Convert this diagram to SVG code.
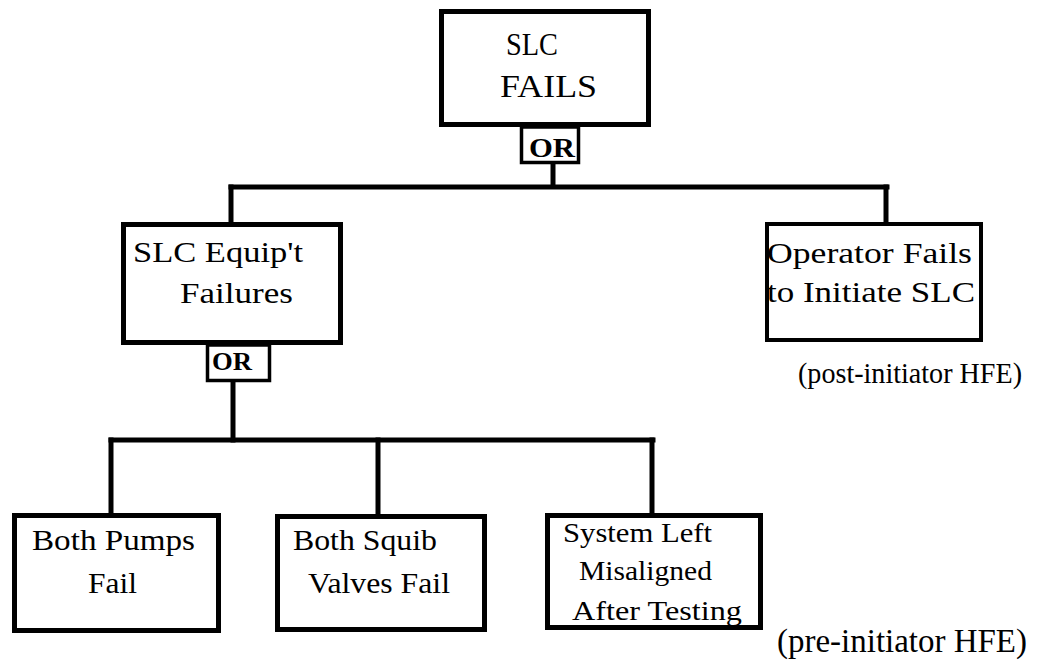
<svg xmlns="http://www.w3.org/2000/svg" width="1041" height="662" viewBox="0 0 1041 662">
<style>
.box{fill:#fff;stroke:#000;stroke-width:5}
.gate{fill:#fff;stroke:#000;stroke-width:3.5}
.conn{fill:none;stroke:#000;stroke-width:5;stroke-linecap:square}
.t{font-family:"Liberation Serif","Times New Roman",serif;fill:#000}
.g{font-family:"Liberation Serif","Times New Roman",serif;font-weight:bold;fill:#000}
</style>
<rect width="1041" height="662" fill="#fff"/>
<g id="connectors">
<line class="conn" x1="553" y1="164" x2="553" y2="186"/>
<line class="conn" x1="231" y1="187" x2="887" y2="187"/>
<line class="conn" x1="231" y1="187" x2="231" y2="222"/>
<line class="conn" x1="886" y1="187" x2="886" y2="222"/>
<line class="conn" x1="233" y1="382" x2="233" y2="440"/>
<line class="conn" x1="111" y1="440" x2="653" y2="440"/>
<line class="conn" x1="111" y1="440" x2="111" y2="513"/>
<line class="conn" x1="378" y1="440" x2="378" y2="513"/>
<line class="conn" x1="652" y1="440" x2="652" y2="513"/>
</g>
<g id="slc-fails">
<rect class="box" x="441.5" y="11.5" width="207" height="113"/>
<text class="t" x="506" y="55" font-size="32" textLength="52" lengthAdjust="spacingAndGlyphs">SLC</text>
<text class="t" x="500" y="97" font-size="32" textLength="97" lengthAdjust="spacingAndGlyphs">FAILS</text>
</g>
<g id="or-top">
<rect class="gate" x="521.5" y="127" width="57" height="35.5"/>
<text class="g" x="529" y="157" font-size="27" textLength="46" lengthAdjust="spacingAndGlyphs">OR</text>
</g>
<g id="equip-failures">
<rect class="box" x="123.5" y="224.5" width="217" height="118"/>
<text class="t" x="133" y="262" font-size="30" textLength="170" lengthAdjust="spacingAndGlyphs">SLC Equip't</text>
<text class="t" x="180" y="303" font-size="30" textLength="113" lengthAdjust="spacingAndGlyphs">Failures</text>
</g>
<g id="or-equip">
<rect class="gate" x="207.5" y="345" width="62" height="35.5"/>
<text class="g" x="212" y="370" font-size="25" textLength="40" lengthAdjust="spacingAndGlyphs">OR</text>
</g>
<g id="operator-fails">
<rect class="box" x="767" y="224" width="214" height="116" style="stroke-width:4"/>
<text class="t" x="767" y="263" font-size="30" textLength="205" lengthAdjust="spacingAndGlyphs">Operator Fails</text>
<text class="t" x="767" y="302" font-size="30" textLength="208" lengthAdjust="spacingAndGlyphs">to Initiate SLC</text>
</g>
<g id="post-initiator-label">
<text class="t" x="798" y="383" font-size="30" textLength="224" lengthAdjust="spacingAndGlyphs">(post-initiator HFE)</text>
</g>
<g id="both-pumps">
<rect class="box" x="14.5" y="515.5" width="204" height="115"/>
<text class="t" x="32" y="550" font-size="30" textLength="163" lengthAdjust="spacingAndGlyphs">Both Pumps</text>
<text class="t" x="88" y="593" font-size="30" textLength="49" lengthAdjust="spacingAndGlyphs">Fail</text>
</g>
<g id="both-squib">
<rect class="box" x="277.5" y="516.5" width="207" height="113"/>
<text class="t" x="293" y="550" font-size="30" textLength="144" lengthAdjust="spacingAndGlyphs">Both Squib</text>
<text class="t" x="308" y="593" font-size="30" textLength="142" lengthAdjust="spacingAndGlyphs">Valves Fail</text>
</g>
<g id="system-left">
<rect class="box" x="547.5" y="515.5" width="213" height="112"/>
<text class="t" x="563" y="542" font-size="27" textLength="149" lengthAdjust="spacingAndGlyphs">System Left</text>
<text class="t" x="579" y="580" font-size="27" textLength="133" lengthAdjust="spacingAndGlyphs">Misaligned</text>
<text class="t" x="572" y="620" font-size="27" textLength="170" lengthAdjust="spacingAndGlyphs">After Testing</text>
</g>
<g id="pre-initiator-label">
<text class="t" x="777" y="652" font-size="33" textLength="250" lengthAdjust="spacingAndGlyphs">(pre-initiator HFE)</text>
</g>
</svg>
